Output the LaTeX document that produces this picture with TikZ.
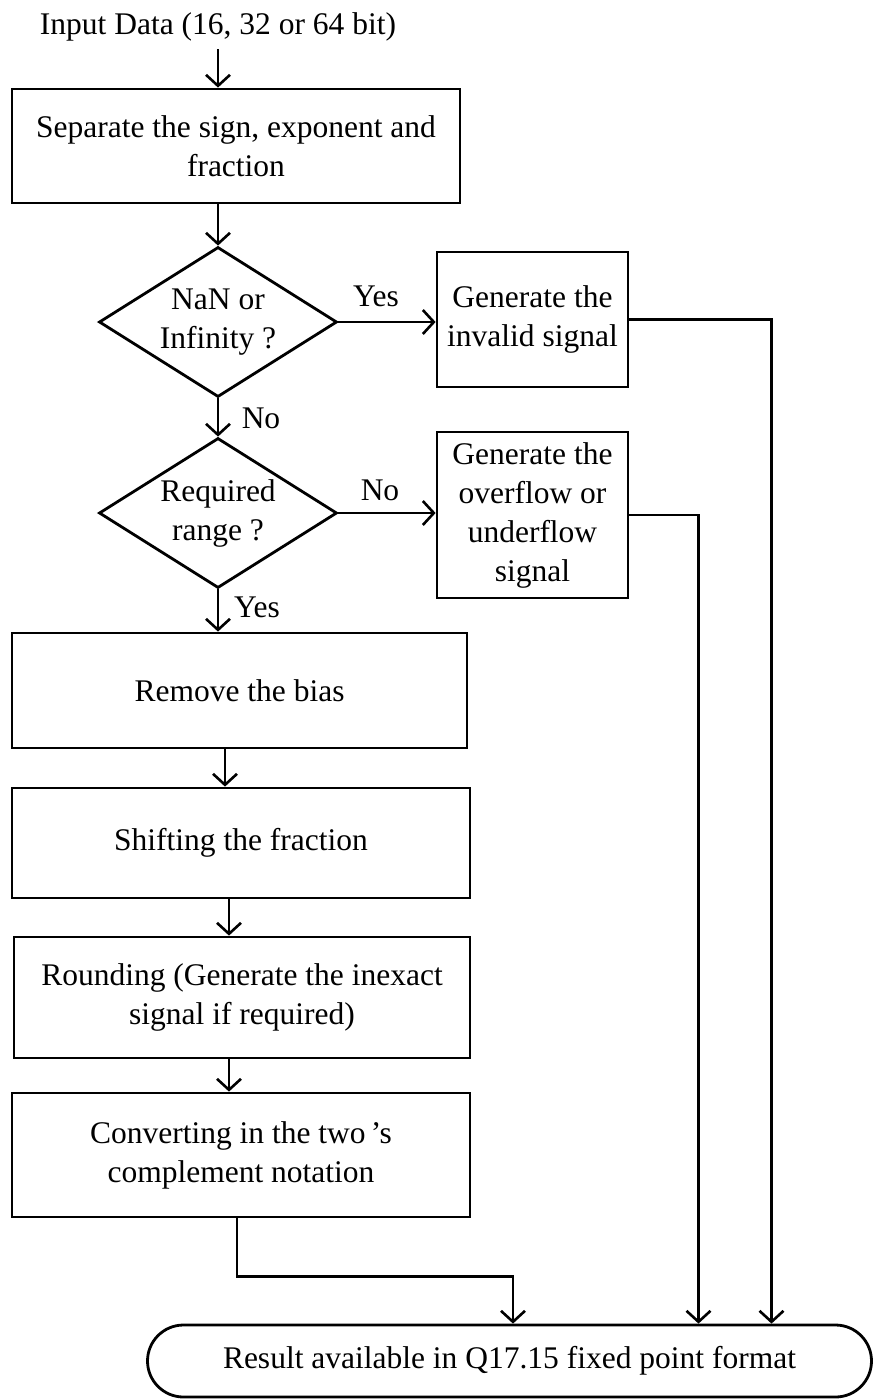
\documentclass[tikz,border=0pt]{standalone}
\usepackage{fontspec}
\setmainfont{Liberation Serif}
\usetikzlibrary{shapes.geometric,arrows.meta}
\begin{document}
\begin{tikzpicture}[x=1pt,y=-1pt,
  every node/.style={font=\fontsize{31.5}{39}\selectfont, inner sep=0pt, align=center},
  conn/.style={line width=2.6pt},
  arr/.style={conn, -{Straight Barb[length=11pt,width=24pt]}},
  procbox/.style={draw, line width=2.8pt, rectangle},
  decision/.style={draw, line width=2.8pt, diamond, minimum width=238pt, minimum height=150pt},
  terminal/.style={draw, line width=2.8pt, rectangle, rounded corners=36pt, minimum width=724pt, minimum height=72pt},
  tag/.style={}
]
\useasboundingbox (0,0) rectangle (873,1400);

% input label
\node (input) at (218,27) {Input Data (16, 32 or 64 bit)};

% main column
\node[procbox, minimum width=448pt, minimum height=114pt] (sep) at (236,146)
  {Separate the sign, exponent and\\fraction};
\node[decision] (dec1) at (218,322) {};
\node (dec1t) at (218,322) {NaN or\\Infinity ?};
\node[decision] (dec2) at (218,513) {};
\node (dec2t) at (218,513) {Required\\range ?};
\node[procbox, minimum width=455pt, minimum height=115pt] (bias) at (239.5,690.5) {Remove the bias};
\node[procbox, minimum width=458pt, minimum height=110pt] (shift) at (241,843) {Shifting the fraction};
\node[procbox, minimum width=456pt, minimum height=121pt] (round) at (242,997.5)
  {Rounding (Generate the inexact\\signal if required)};
\node[procbox, minimum width=458pt, minimum height=124pt] (conv) at (241,1155)
  {Converting in the two\,\textquoteright s\\complement notation};

% side branches
\node[procbox, minimum width=191pt, minimum height=135pt] (inv) at (532.5,319.5)
  {Generate the\\invalid signal};
\node[procbox, minimum width=191pt, minimum height=166pt] (ovf) at (532.5,515)
  {Generate the\\overflow or\\underflow\\signal};

% result terminal
\node[terminal] (res) at (509.5,1361) {Result available in Q17.15 fixed point format};

% branch labels
\node[tag] (yes1) at (376,296) {Yes};
\node[tag] (no1) at (261,418) {No};
\node[tag] (no2) at (380,490) {No};
\node[tag] (yes2) at (257,607) {Yes};

% connectors
\draw[arr] ([yshift=-8pt]input.south) -- (input.south |- sep.north);
\draw[arr] (sep.south -| dec1.north) -- (dec1.north);
\draw[arr] (dec1.south) -- (dec2.north);
\draw[arr] (dec2.south) -- (dec2.south |- bias.north);
\draw[arr] (dec1.east) -- (dec1.east -| inv.west);
\draw[arr] (dec2.east) -- (dec2.east -| ovf.west);
\draw[arr] ([xshift=-14.5pt]bias.south) -- ([xshift=-14.5pt]bias.south |- shift.north);
\draw[arr] ([xshift=-12pt]shift.south) -- ([xshift=-12pt]shift.south |- round.north);
\draw[arr] ([xshift=-13pt]round.south) -- ([xshift=-13pt]round.south |- conv.north);
\draw[arr] (inv.east) -| ([xshift=262pt]res.north);
\draw[arr] (ovf.east) -| ([xshift=189pt]res.north);
\draw[arr] ([xshift=-4pt]conv.south) -- ++(0,58) -| ([xshift=3.5pt]res.north);
\end{tikzpicture}
\end{document}
